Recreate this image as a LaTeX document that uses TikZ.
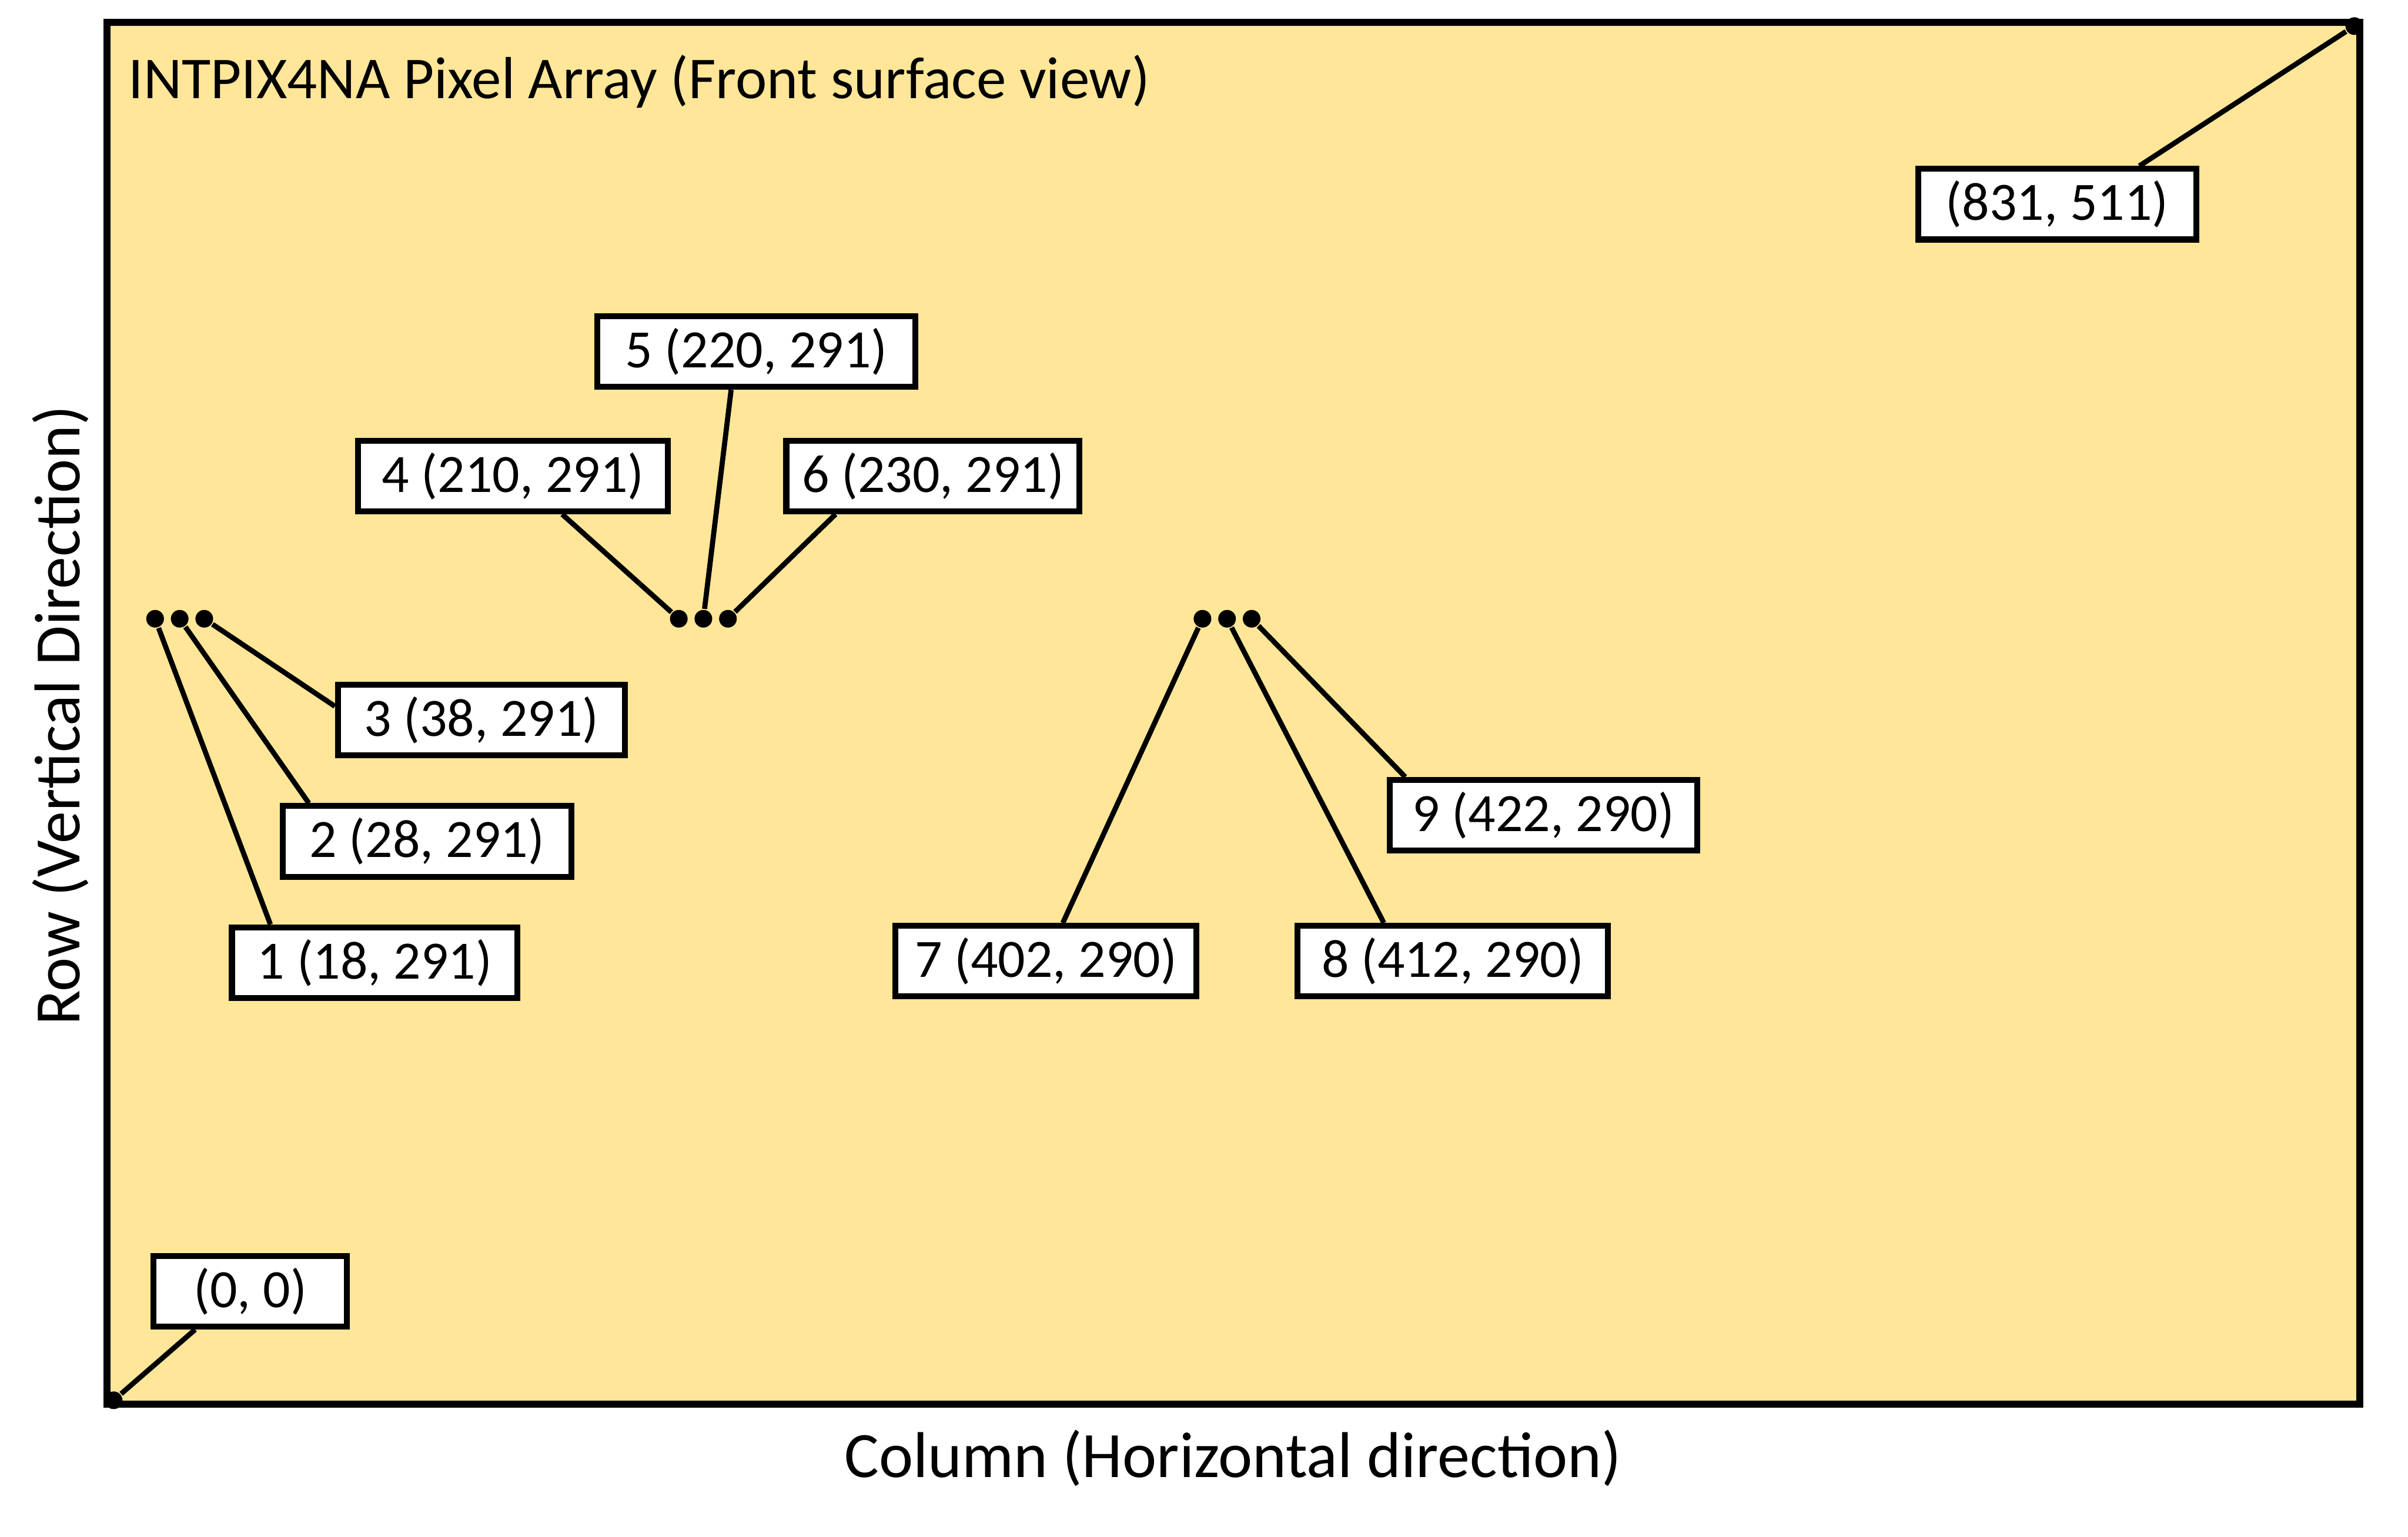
\documentclass[tikz,border=0pt]{standalone}
\usepackage{fontspec}
\setmainfont{Carlito}
\usepackage{tikz}
\definecolor{arrayfill}{HTML}{FFE699}

\begin{document}
\begin{tikzpicture}[
  pixbox/.style={draw, fill=white, line width=1.1pt, minimum height=0.46cm, inner sep=0pt, font=\fontsize{10}{12}\selectfont},
  pixdot/.style={circle, fill=black, inner sep=0pt, minimum size=0.115cm},
  leader/.style={line width=0.95pt}
]
  \useasboundingbox (0,0) rectangle (15.68,10.01);

  % Pixel array
  \draw[line width=1.3pt, fill=arrayfill] (0.695,0.865) rectangle (15.365,9.865);
  \node[anchor=base west, inner sep=0pt, font=\fontsize{11}{13}\selectfont] (title) at (0.83,9.37) {INTPIX4NA Pixel Array (Front surface view)};
  \node[anchor=base, inner sep=0pt, font=\fontsize{12}{14}\selectfont] (colLbl) at (8.03,0.39) {Column (Horizontal direction)};
  \node[anchor=base, rotate=90, inner sep=0pt, font=\fontsize{12}{14}\selectfont] (rowLbl) at (0.52,5.35) {Row (Vertical Direction)};

  % Pixels
  \node[pixdot] (d0) at (0.74,0.89) {};
  \node[pixdot] (dmax) at (15.33,9.84) {};
  \node[pixdot] (d1) at (1.01,5.98) {};
  \node[pixdot] (d2) at (1.17,5.98) {};
  \node[pixdot] (d3) at (1.33,5.98) {};
  \node[pixdot] (d4) at (4.42,5.98) {};
  \node[pixdot] (d5) at (4.58,5.98) {};
  \node[pixdot] (d6) at (4.74,5.98) {};
  \node[pixdot] (d7) at (7.83,5.98) {};
  \node[pixdot] (d8) at (7.99,5.98) {};
  \node[pixdot] (d9) at (8.15,5.98) {};

  % Coordinate labels
  \node[pixbox, minimum width=1.26cm] (p0) at (1.63,1.60) {(0, 0)};
  \node[pixbox, minimum width=1.81cm] (pmax) at (13.395,8.68) {(831, 511)};
  \node[pixbox, minimum width=1.86cm] (p1) at (2.44,3.74) {1 (18, 291)};
  \node[pixbox, minimum width=1.88cm] (p2) at (2.78,4.53) {2 (28, 291)};
  \node[pixbox, minimum width=1.87cm] (p3) at (3.135,5.32) {3 (38, 291)};
  \node[pixbox, minimum width=2.02cm] (p4) at (3.34,6.91) {4 (210, 291)};
  \node[pixbox, minimum width=2.07cm] (p5) at (4.925,7.72) {5 (220, 291)};
  \node[pixbox, minimum width=1.91cm] (p6) at (6.075,6.91) {6 (230, 291)};
  \node[pixbox, minimum width=1.96cm] (p7) at (6.81,3.75) {7 (402, 290)};
  \node[pixbox, minimum width=2.02cm] (p8) at (9.46,3.75) {8 (412, 290)};
  \node[pixbox, minimum width=2.00cm] (p9) at (10.05,4.70) {9 (422, 290)};

  % Leader lines
  \draw[leader] (d0) -- ([xshift=0.29cm]p0.south west);
  \draw[leader] (dmax) -- ([xshift=1.46cm]pmax.north west);
  \draw[leader] (d1) -- ([xshift=0.27cm]p1.north west);
  \draw[leader] (d2) -- ([xshift=0.19cm]p2.north west);
  \draw[leader] (d3) -- ([yshift=0.09cm]p3.west);
  \draw[leader] (d4) -- ([xshift=1.35cm]p4.south west);
  \draw[leader] (d5) -- ([xshift=0.89cm]p5.south west);
  \draw[leader] (d6) -- ([xshift=0.34cm]p6.south west);
  \draw[leader] (d7) -- ([xshift=1.11cm]p7.north west);
  \draw[leader] (d8) -- ([xshift=0.58cm]p8.north west);
  \draw[leader] (d9) -- ([xshift=0.12cm]p9.north west);
\end{tikzpicture}
\end{document}
